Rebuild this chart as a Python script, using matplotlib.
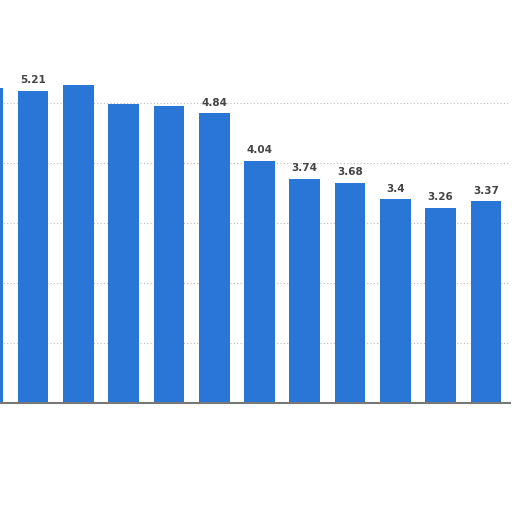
import numpy as np
import matplotlib.pyplot as plt

# valores (primeira barra cortada na borda esquerda)
values = [5.25, 5.21, 5.31, 4.99, 4.96, 4.84, 4.04, 3.74, 3.68, 3.4, 3.26, 3.37]
labels = ['', '5.21', '', '', '', '4.84', '4.04', '3.74', '3.68', '3.4', '3.26', '3.37']

bar_color = '#2a76d6'
x = np.arange(len(values))

fig = plt.figure(figsize=(5.12, 5.12), dpi=100)
ax = fig.add_axes([0, 0.2129, 0.996, 0.7605])

ax.bar(x, values, width=0.68, color=bar_color, zorder=3)

for xi, v, lab in zip(x, values, labels):
    if lab:
        ax.annotate(lab, (xi, v), xytext=(0, 4), textcoords='offset points',
                    ha='center', va='bottom', fontsize=7.5, fontweight='bold',
                    color='#444444', zorder=4)

ax.set_ylim(0, 6.5)
ax.set_xlim(0.27, 11.53)
ax.set_yticks([1, 2, 3, 4, 5])
ax.yaxis.grid(True, linestyle=(0, (1, 2)), color='#bbbbbb', linewidth=0.8, zorder=0)
ax.tick_params(left=False, bottom=False, labelleft=False, labelbottom=False)
for s in ['top', 'right', 'left']:
    ax.spines[s].set_visible(False)
ax.spines['bottom'].set_color('#777777')
ax.spines['bottom'].set_linewidth(1.5)
ax.spines['bottom'].set_zorder(5)

fig.savefig('out.png', dpi=100, facecolor='white')
